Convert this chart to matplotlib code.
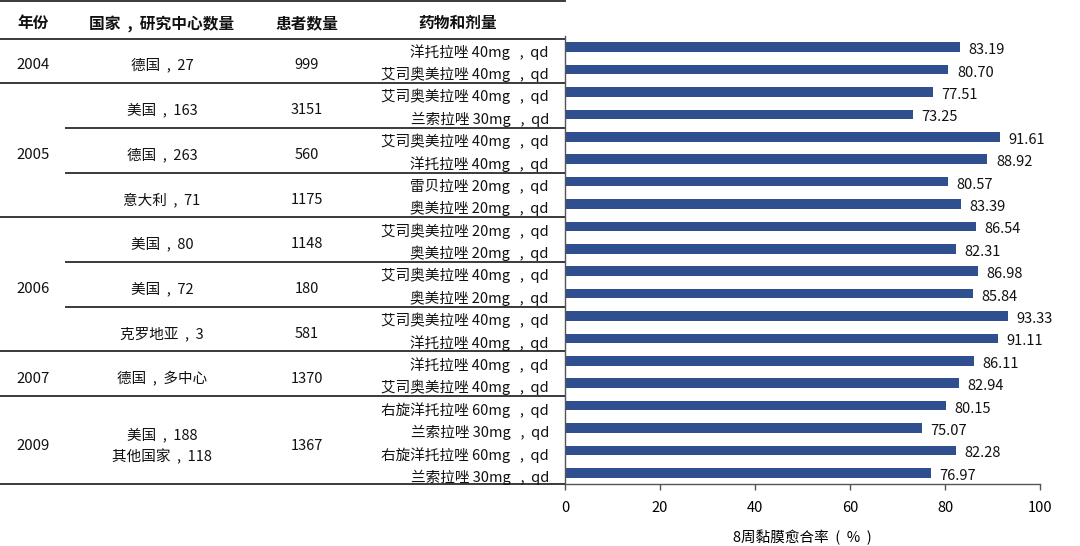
import numpy as np
import matplotlib
matplotlib.use('Agg')
import matplotlib.pyplot as plt
from matplotlib.transforms import blended_transform_factory

plt.rcParams['font.family'] = ['Noto Sans CJK SC', 'DejaVu Sans']

# table columns
headers = ['年份', '国家  ,  研究中心数量', '患者数量', '药物和剂量']
years = ['2004', '2005', '2006', '2007', '2009']
year_rows = [2, 6, 6, 2, 4]
sites = ['德国  ,  27', '美国  ,  163', '德国  ,  263', '意大利  ,  71', '美国  ,  80',
         '美国  ,  72', '克罗地亚  ,  3', '德国  ,  多中心', '美国  ,  188\n其他国家  ,  118']
site_rows = [2, 2, 2, 2, 2, 2, 2, 2, 4]
patients = ['999', '3151', '560', '1175', '1148', '180', '581', '1370', '1367']

drugs = ['洋托拉唑 40mg   ,  qd', '艾司奥美拉唑 40mg   ,  qd',
         '艾司奥美拉唑 40mg   ,  qd', '兰索拉唑 30mg   ,  qd',
         '艾司奥美拉唑 40mg   ,  qd', '洋托拉唑 40mg   ,  qd',
         '雷贝拉唑 20mg   ,  qd', '奥美拉唑 20mg   ,  qd',
         '艾司奥美拉唑 20mg   ,  qd', '奥美拉唑 20mg   ,  qd',
         '艾司奥美拉唑 40mg   ,  qd', '奥美拉唑 20mg   ,  qd',
         '艾司奥美拉唑 40mg   ,  qd', '洋托拉唑 40mg   ,  qd',
         '洋托拉唑 40mg   ,  qd', '艾司奥美拉唑 40mg   ,  qd',
         '右旋洋托拉唑 60mg   ,  qd', '兰索拉唑 30mg   ,  qd',
         '右旋洋托拉唑 60mg   ,  qd', '兰索拉唑 30mg   ,  qd']
rates = [83.19, 80.70, 77.51, 73.25, 91.61, 88.92, 80.57, 83.39, 86.54, 82.31,
         86.98, 85.84, 93.33, 91.11, 86.11, 82.94, 80.15, 75.07, 82.28, 76.97]

W, H = 1080, 546
fig = plt.figure(figsize=(W / 100, H / 100), dpi=100)
ax = fig.add_axes([565 / W, 1 - 484 / H, (1040 - 565) / W, (484 - 36) / H])

y = np.arange(len(rates))
ax.barh(y, rates, height=0.43, color='#2F4F8F')
for yi, v in zip(y, rates):
    ax.text(v + 1.8, yi + 0.13, '%.2f' % v, va='center', ha='left', fontsize=10.5, color='#111111')

# table part, x in figure pixels / y in rows
tr = blended_transform_factory(fig.transFigure, ax.transData)
col_x = [33, 162, 307, 458]
txt = dict(transform=tr, color='#111111', va='center')

for cx, h in zip(col_x, headers):
    ax.text(cx / W, -1.08, h, ha='center', fontweight='bold', fontsize=11.3, **txt)

start = 0
for yr, n in zip(years, year_rows):
    ax.text(col_x[0] / W, start + (n - 1) / 2 + 0.3, yr, ha='center', fontsize=10.8, **txt)
    start += n

start = 0
for s, n, p in zip(sites, site_rows, patients):
    mid = start + (n - 1) / 2 + 0.3
    ax.text(col_x[1] / W, mid, s, ha='center', linespacing=1.45, fontsize=10.5, **txt)
    ax.text(col_x[2] / W, mid, p, ha='center', fontsize=10.5, **txt)
    start += n

for yi, d in zip(y, drugs):
    ax.text(549 / W, yi + 0.2, d, ha='right', fontsize=10.5, **txt)

# table rules
line = dict(transform=tr, clip_on=False, color='#3a3a3a', lw=1.4)
right = 565 / W
ax.plot([0, right], [-2.06, -2.06], **line)
ax.plot([0, right], [-0.37, -0.37], **line)
year_ends = list(np.cumsum(year_rows))
for e in year_ends:
    off = 0.0 if e == len(rates) else 0.08
    ax.plot([0, right], [e - 0.5 + off] * 2, **line)
for e in np.cumsum(site_rows):
    if e not in year_ends:
        ax.plot([66 / W, right], [e - 0.5 + 0.1] * 2, **line)

ax.set_xlim(0, 100)
ax.set_ylim(len(rates) - 0.5, -0.5)
ax.set_xticks(range(0, 101, 20))
ax.set_yticks([])
ax.tick_params(axis='x', length=4, width=1, color='#555555', labelsize=10.5, pad=8)
for sp in ['top', 'right']:
    ax.spines[sp].set_visible(False)
for sp in ['left', 'bottom']:
    ax.spines[sp].set_color('#555555')
    ax.spines[sp].set_linewidth(1.0)
ax.set_xlabel('8周黏膜愈合率  (  %  )', fontsize=10.5, labelpad=11)

fig.savefig('out.png', dpi=100)
